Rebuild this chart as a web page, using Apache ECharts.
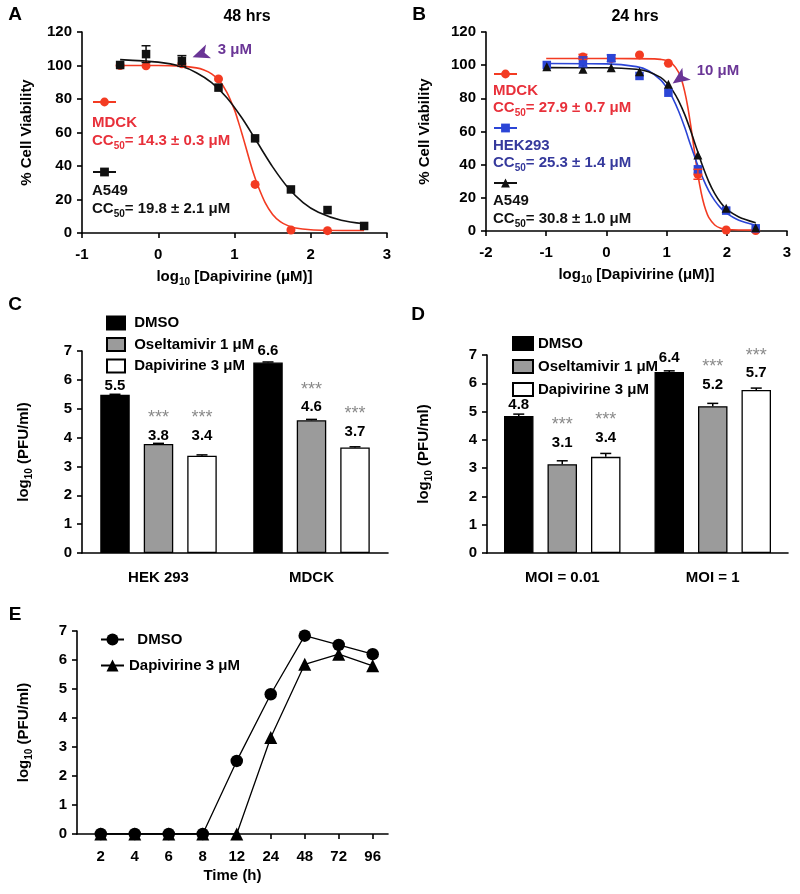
<!DOCTYPE html>
<html><head><meta charset="utf-8">
<script src="https://cdn.jsdelivr.net/npm/echarts@6/dist/echarts.min.js"></script>
<style>html,body{margin:0;padding:0;background:#fff}#c{width:800px;height:894px}</style>
</head><body><div id="c"></div>
<script>
// ---------- Panel A : 48 hrs ----------
const aLogDose = [-0.5, -0.16, 0.31, 0.79, 1.27, 1.74, 2.22, 2.7];
const aMdck    = [100, 99.8, 101, 92, 29, 1.8, 1.4, null];
const aA549    = [100.3, 106.8, 102.7, 86.8, 56.5, 26, 13.7, 4.2];
const aA549Err = [0, 5, 3.2, 0, 0, 0, 0, 0];
const aMdckFitX = [-0.5, 0, 0.3, 0.5, 0.6, 0.7, 0.8, 0.9, 1.0, 1.05, 1.1, 1.15, 1.2, 1.25, 1.3, 1.4, 1.5, 1.6, 1.7, 1.8, 2.0, 2.2, 2.7];
const aMdckFitY = [100, 100, 99.6, 98.6, 97.3, 95, 91, 84, 73.5, 66.5, 59, 51, 43, 35.5, 29, 18.3, 11.1, 6.8, 4.4, 3, 1.9, 1.6, 1.5];
const aA549FitX = [-0.5, 0, 0.3, 0.5, 0.7, 0.9, 1.1, 1.3, 1.5, 1.7, 1.9, 2.1, 2.4, 2.7];
const aA549FitY = [103.5, 102, 99.5, 95.7, 89.8, 80.8, 68.5, 54, 39.5, 27.2, 18.2, 12.4, 7.6, 5.5];

// ---------- Panel B : 24 hrs ----------
const bLogDose = [-0.99, -0.39, 0.08, 0.55, 1.03, 1.52, 1.99, 2.48];
const bMdck    = [null, 105, 104, 106.2, 101.1, 34.2, 0.6, 0.3];
const bMdckErr = [0, 1.5, 0, 0, 0, 3, 0, 0];
const bHek     = [100.1, 102, 104.2, 93.5, 83.4, 37.2, 12.3, 1.6];
const bHekErr  = [0, 3, 2, 0, 0, 0, 0, 0];
const bA549    = [99, 97.5, 98.5, 96, 88.5, 45.8, 13.7, 2];
const bMdckFitX = [-1, 0, 0.8, 0.9, 1.0, 1.1, 1.2, 1.25, 1.3, 1.35, 1.4, 1.45, 1.5, 1.55, 1.6, 1.65, 1.7, 1.8, 1.9, 2.0, 2.48];
const bMdckFitY = [104, 104, 103.8, 103.5, 102.8, 100.7, 95.7, 91, 84.2, 75.2, 63.8, 51.2, 38.7, 27.7, 19, 12.6, 8.2, 3.6, 1.6, 0.9, 0.5];
const bHekFitX  = [-1, 0, 0.5, 0.7, 0.9, 1.0, 1.1, 1.2, 1.3, 1.4, 1.5, 1.6, 1.7, 1.8, 1.9, 2.0, 2.2, 2.48];
const bHekFitY  = [101, 100.8, 99.1, 96.6, 91.1, 86.5, 80.3, 72.2, 62.5, 51.7, 41.3, 32, 24.2, 18.3, 13.8, 10.6, 6.5, 3.5];
const bA549FitX = [-1, 0, 0.5, 0.7, 0.9, 1.0, 1.1, 1.2, 1.3, 1.4, 1.5, 1.6, 1.7, 1.8, 1.9, 2.0, 2.2, 2.48];
const bA549FitY = [98.5, 98.4, 97.5, 96.1, 92.6, 89.4, 84.8, 78.5, 70.3, 60.4, 49.6, 39, 29.8, 22.5, 17, 13, 8.5, 5];

// ---------- Panel C ----------
const cCats  = ['HEK 293', 'MDCK'];
const cDmso  = [5.48, 6.6];
const cOsel  = [3.78, 4.6];
const cDap   = [3.37, 3.66];
const cDmsoErr = [0.02, 0.02];
const cOselErr = [0.02, 0.03];
const cDapErr  = [0.03, 0.02];
const cDmsoTxt = ['5.5', '6.6'];
const cOselTxt = ['3.8', '4.6'];
const cDapTxt  = ['3.4', '3.7'];

// ---------- Panel D ----------
const dCats  = ['MOI = 0.01', 'MOI = 1'];
const dDmso  = [4.84, 6.4];
const dOsel  = [3.14, 5.19];
const dDap   = [3.4, 5.76];
const dDmsoErr = [0.07, 0.04];
const dOselErr = [0.12, 0.1];
const dDapErr  = [0.12, 0.07];
const dDmsoTxt = ['4.8', '6.4'];
const dOselTxt = ['3.1', '5.2'];
const dDapTxt  = ['3.4', '5.7'];

// ---------- Panel E ----------
const eTimes = ['2', '4', '6', '8', '12', '24', '48', '72', '96'];
const eDmso  = [0, 0, 0, 0, 2.52, 4.82, 6.84, 6.52, 6.2];
const eDap   = [0, 0, 0, 0, 0, 3.33, 5.85, 6.2, 5.8];

// ---------- styles ----------
const FONT = 'Liberation Sans, Arial, Helvetica, sans-serif';
const RED = '#f33b22', RED_T = '#e8303a', BLUE = '#2b45d6', BLUE_T = '#35399c', BLK = '#111', PURPLE = '#6a3596';
const cLift = {dmso: [1.5, 4], osel: [0, 5], dap: [12, 8]};
const dLift = {dmso: [3, 6.5], osel: [13.5, 13.5], dap: [11, 9]};
const BARW = 29.5, BARGAP = 14;

const zip = (xs, ys) => xs.map((x, i) => [x, ys[i]]);
const lineW = 1.6;
const axLine = {onZero: false, lineStyle: {color: '#000', width: lineW}};
const axTick = {length: 5, lineStyle: {color: '#000', width: lineW}};
const tickLbl = (m) => ({color: '#000', fontSize: 15, fontWeight: 'bold', fontFamily: FONT, margin: m});
const nameStyle = {
  color: '#000', fontSize: 15, fontWeight: 'bold', fontFamily: FONT,
  rich: {
    n: {color: '#000', fontSize: 15, fontWeight: 'bold', fontFamily: FONT, lineHeight: 20},
    s: {color: '#000', fontSize: 10, fontWeight: 'bold', fontFamily: FONT, lineHeight: 12, verticalAlign: 'bottom'}
  }
};
const LOGX = '{n|log}{s|10}{n| [Dapivirine (μM)]}';
const LOGY = '{n|log}{s|10}{n| (PFU/ml)}';

function errScatter(color, cap) {
  return function (params, api) {
    const x = api.value(0), lo = api.value(1), hi = api.value(2);
    const t = api.coord([x, hi]), b = api.coord([x, lo]);
    const st = {stroke: color, lineWidth: 1.5};
    return {type: 'group', children: [
      {type: 'line', shape: {x1: t[0], y1: t[1], x2: b[0], y2: b[1]}, style: st},
      {type: 'line', shape: {x1: t[0] - cap / 2, y1: t[1], x2: t[0] + cap / 2, y2: t[1]}, style: st},
      {type: 'line', shape: {x1: b[0] - cap / 2, y1: b[1], x2: b[0] + cap / 2, y2: b[1]}, style: st}
    ]};
  };
}
function errBar(offset, cap) {
  return function (params, api) {
    const c = api.value(0), v = api.value(1), hi = api.value(2);
    const t = api.coord([c, hi]), b = api.coord([c, v]);
    const x = t[0] + offset;
    const st = {stroke: '#000', lineWidth: 1.5};
    return {type: 'group', children: [
      {type: 'line', shape: {x1: x, y1: t[1], x2: x, y2: b[1]}, style: st},
      {type: 'line', shape: {x1: x - cap / 2, y1: t[1], x2: x + cap / 2, y2: t[1]}, style: st}
    ]};
  };
}
const errData = (xs, ys, es) => xs.map((x, i) => [x, ys[i] - es[i], ys[i] + es[i]]).filter((d, i) => es[i] > 0 && ys[i] != null);
const barErrData = (ys, es) => ys.map((y, i) => [i, y, y + es[i]]);

function fitLine(name, xi, xs, ys, color, symbol) {
  return {name, type: 'line', xAxisIndex: xi, yAxisIndex: xi, data: zip(xs, ys), smooth: 0.3,
    showSymbol: false, symbol, symbolSize: 9, itemStyle: {color}, lineStyle: {color, width: 1.6}, z: 2, silent: true};
}
function pts(name, xi, xs, ys, color, symbol, size) {
  return {name, type: 'scatter', xAxisIndex: xi, yAxisIndex: xi, data: zip(xs, ys).filter(d => d[1] != null),
    symbol, symbolSize: size, itemStyle: {color, opacity: 1}, z: 4, silent: true};
}
function bar(name, xi, ys, txt, lift, color, stars) {
  return {name, type: 'bar', xAxisIndex: xi, yAxisIndex: xi, barWidth: BARW, barGap: (BARGAP / BARW * 100) + '%',
    itemStyle: {color, borderColor: '#000', borderWidth: 1.3},
    data: ys.map((v, i) => ({value: v, label: {distance: lift[i]}})),
    label: {show: true, position: 'top',
      formatter: p => (stars ? '{s|***}\n' : '') + '{v|' + txt[p.dataIndex] + '}',
      rich: {
        s: {fontSize: 18, color: '#8a8a8a', fontFamily: FONT, lineHeight: 19},
        v: {fontSize: 15, fontWeight: 'bold', color: '#000', fontFamily: FONT, lineHeight: 16}
      }}, z: 2, silent: true};
}
function errBarSeries(xi, ys, es, offset) {
  return {type: 'custom', xAxisIndex: xi, yAxisIndex: xi, data: barErrData(ys, es),
    renderItem: errBar(offset, 11), z: 5, silent: true};
}
const arrowMark = (coord, rot, txtCoord, txt) => ({
  silent: true, animation: false,
  data: [
    {coord, symbol: 'arrow', symbolSize: [11, 17], symbolRotate: rot, itemStyle: {color: PURPLE}, label: {show: false}},
    {coord: txtCoord, symbol: 'circle', symbolSize: 0.1, itemStyle: {color: 'rgba(0,0,0,0)'},
      label: {show: true, position: 'right', distance: 0, formatter: txt, color: PURPLE, fontSize: 15, fontWeight: 'bold', fontFamily: FONT}}
  ]
});

const lgIcon = (name, left, cy) => ({data: [name], left, top: cy - 5.5, padding: 0, itemWidth: 23, itemHeight: 11,
  formatter: () => '', selectedMode: false, textStyle: {fontSize: 1}});
const legendText = {cD: ' DMSO', cO: ' Oseltamivir 1 μM', cP: ' Dapivirine 3 μM', dD: 'DMSO', dO: 'Oseltamivir 1 μM', dP: 'Dapivirine 3 μM',
  eD: '  DMSO', eP: 'Dapivirine 3 μM'};

const txtRich = (color) => ({
  n: {fill: color, color, fontSize: 15, fontWeight: 'bold', fontFamily: FONT, lineHeight: 20},
  s: {fill: color, color, fontSize: 10, fontWeight: 'bold', fontFamily: FONT, lineHeight: 12, verticalAlign: 'bottom'}
});
const gText = (x, y, text, color, size, align) => ({type: 'text', x, y, silent: true,
  style: {text, fill: color, fontSize: size || 15, fontWeight: 'bold', fontFamily: FONT, align: align || 'left', verticalAlign: 'middle', rich: txtRich(color)}});
const yAx = (gi, max, interval, name, gap) => ({gridIndex: gi, type: 'value', min: 0, max, interval, splitLine: {show: false},
  axisLine: Object.assign({show: true}, axLine), axisTick: Object.assign({show: true}, axTick), axisLabel: tickLbl(10),
  name, nameLocation: 'middle', nameGap: gap, nameTextStyle: nameStyle});
const lgStyle = {color: '#000', fontSize: 15, fontWeight: 'bold', fontFamily: FONT};

const option = {
  animation: false,
  backgroundColor: '#fff',
  textStyle: {fontFamily: FONT},
  grid: [
    {left: 82, top: 32, width: 305, height: 201},
    {left: 486, top: 32, width: 301, height: 199},
    {left: 82, top: 351, width: 306, height: 202},
    {left: 487, top: 355, width: 301, height: 198},
    {left: 77, top: 631, width: 311, height: 203}
  ],
  xAxis: [
    {gridIndex: 0, type: 'value', min: -1, max: 3, interval: 1, splitLine: {show: false}, axisLine: axLine, axisTick: axTick, axisLabel: tickLbl(14),
      name: LOGX, nameLocation: 'middle', nameGap: 34, nameTextStyle: nameStyle},
    {gridIndex: 1, type: 'value', min: -2, max: 3, interval: 1, splitLine: {show: false}, axisLine: axLine, axisTick: axTick, axisLabel: tickLbl(14),
      name: LOGX, nameLocation: 'middle', nameGap: 34, nameTextStyle: nameStyle},
    {gridIndex: 2, type: 'category', data: cCats, axisLine: axLine, axisTick: axTick, axisLabel: tickLbl(17)},
    {gridIndex: 3, type: 'category', data: dCats, axisLine: axLine, axisTick: axTick, axisLabel: tickLbl(17)},
    {gridIndex: 4, type: 'value', min: -0.7, max: 8.45, splitLine: {show: false}, axisLine: axLine,
      axisTick: Object.assign({customValues: eTimes.map((t, i) => i)}, axTick),
      axisLabel: Object.assign({customValues: eTimes.map((t, i) => i), formatter: v => eTimes[Math.round(v)]}, tickLbl(15)),
      name: 'Time (h)', nameLocation: 'middle', nameGap: 34, nameTextStyle: nameStyle}
  ],
  yAxis: [
    yAx(0, 120, 20, '% Cell Viability', 48),
    yAx(1, 120, 20, '% Cell Viability', 54),
    yAx(2, 7, 1, LOGY, 48),
    yAx(3, 7, 1, LOGY, 53),
    yAx(4, 7, 1, LOGY, 43)
  ],
  legend: [
    lgIcon('A MDCK', 92, 102),
    lgIcon('A A549', 92, 172),
    lgIcon('B MDCK', 493, 74),
    lgIcon('B HEK293', 493, 128),
    lgIcon('B A549', 493, 183),
    {data: ['cD', 'cO', 'cP'], orient: 'vertical', left: 106, top: 315.5, padding: 0, itemWidth: 18, itemHeight: 13, itemGap: 6.5, icon: 'rect',
      selectedMode: false, formatter: n => legendText[n], textStyle: lgStyle},
    {data: ['dD', 'dO', 'dP'], orient: 'vertical', left: 512, top: 336, padding: 0, itemWidth: 20, itemHeight: 13, itemGap: 8, icon: 'rect',
      selectedMode: false, formatter: n => legendText[n], textStyle: lgStyle},
    {data: ['eD', 'eP'], orient: 'vertical', left: 100, top: 632, padding: 0, itemWidth: 23, itemHeight: 15, itemGap: 11,
      selectedMode: false, formatter: n => legendText[n], textStyle: lgStyle}
  ],
  series: [
    // A
    fitLine('A MDCK', 0, aMdckFitX, aMdckFitY, RED, 'circle'),
    fitLine('A A549', 0, aA549FitX, aA549FitY, BLK, 'rect'),
    pts('A MDCK pts', 0, aLogDose, aMdck, RED, 'circle', 9),
    Object.assign(pts('A A549 pts', 0, aLogDose, aA549, BLK, 'rect', 8.5),
      {markPoint: arrowMark([0.45, 105], 110, [0.78, 109.5], '3 μM')}),
    {type: 'custom', xAxisIndex: 0, yAxisIndex: 0, data: errData(aLogDose, aA549, aA549Err), renderItem: errScatter(BLK, 9), z: 5, silent: true},
    // B
    fitLine('B MDCK', 1, bMdckFitX, bMdckFitY, RED, 'circle'),
    fitLine('B HEK293', 1, bHekFitX, bHekFitY, BLUE, 'rect'),
    fitLine('B A549', 1, bA549FitX, bA549FitY, BLK, 'triangle'),
    pts('B MDCK pts', 1, bLogDose, bMdck, RED, 'circle', 9),
    pts('B HEK pts', 1, bLogDose, bHek, BLUE, 'rect', 8.5),
    Object.assign(pts('B A549 pts', 1, bLogDose, bA549, BLK, 'triangle', 9),
      {markPoint: arrowMark([1.1, 89], 125, [1.5, 96.5], '10 μM')}),
    {type: 'custom', xAxisIndex: 1, yAxisIndex: 1, data: errData(bLogDose, bMdck, bMdckErr), renderItem: errScatter(RED, 9), z: 5, silent: true},
    {type: 'custom', xAxisIndex: 1, yAxisIndex: 1, data: errData(bLogDose, bHek, bHekErr), renderItem: errScatter(BLUE, 9), z: 5, silent: true},
    // C
    bar('cD', 2, cDmso, cDmsoTxt, cLift.dmso, '#000', false),
    bar('cO', 2, cOsel, cOselTxt, cLift.osel, '#9b9b9b', true),
    bar('cP', 2, cDap, cDapTxt, cLift.dap, '#fff', true),
    errBarSeries(2, cDmso, cDmsoErr, -(BARW + BARGAP)),
    errBarSeries(2, cOsel, cOselErr, 0),
    errBarSeries(2, cDap, cDapErr, BARW + BARGAP),
    // D
    bar('dD', 3, dDmso, dDmsoTxt, dLift.dmso, '#000', false),
    bar('dO', 3, dOsel, dOselTxt, dLift.osel, '#9b9b9b', true),
    bar('dP', 3, dDap, dDapTxt, dLift.dap, '#fff', true),
    errBarSeries(3, dDmso, dDmsoErr, -(BARW + BARGAP)),
    errBarSeries(3, dOsel, dOselErr, 0),
    errBarSeries(3, dDap, dDapErr, BARW + BARGAP),
    // E
    {name: 'eP', type: 'line', xAxisIndex: 4, yAxisIndex: 4, data: eDap.map((v, i) => [i, v]), symbol: 'triangle', symbolSize: 13,
      itemStyle: {color: '#000'}, lineStyle: {color: '#000', width: 1.3}, z: 3, silent: true},
    {name: 'eD', type: 'line', xAxisIndex: 4, yAxisIndex: 4, data: eDmso.map((v, i) => [i, v]), symbol: 'circle', symbolSize: 12.5,
      itemStyle: {color: '#000'}, lineStyle: {color: '#000', width: 1.3}, z: 4, silent: true}
  ],
  graphic: {elements: [
    gText(15, 15, 'A', '#000', 19, 'center'),
    gText(419, 15, 'B', '#000', 19, 'center'),
    gText(15, 305, 'C', '#000', 19, 'center'),
    gText(418, 315, 'D', '#000', 19, 'center'),
    gText(15, 615, 'E', '#000', 19, 'center'),
    gText(247, 17, '48 hrs', '#000', 16, 'center'),
    gText(635, 17, '24 hrs', '#000', 16, 'center'),
    gText(92, 123, 'MDCK', RED_T),
    gText(92, 141, '{n|CC}{s|50}{n|= 14.3 ± 0.3 μM}', RED_T),
    gText(92, 191, 'A549', BLK),
    gText(92, 209, '{n|CC}{s|50}{n|= 19.8 ± 2.1 μM}', BLK),
    gText(493, 91, 'MDCK', RED_T),
    gText(493, 108, '{n|CC}{s|50}{n|= 27.9 ± 0.7 μM}', RED_T),
    gText(493, 146, 'HEK293', BLUE_T),
    gText(493, 163, '{n|CC}{s|50}{n|= 25.3 ± 1.4 μM}', BLUE_T),
    gText(493, 201, 'A549', BLK),
    gText(493, 219, '{n|CC}{s|50}{n|= 30.8 ± 1.0 μM}', BLK)
  ]}
};

const chart = echarts.init(document.getElementById('c'), null, {renderer: 'canvas', width: 800, height: 894});
chart.setOption(option);
</script>
</body></html>
